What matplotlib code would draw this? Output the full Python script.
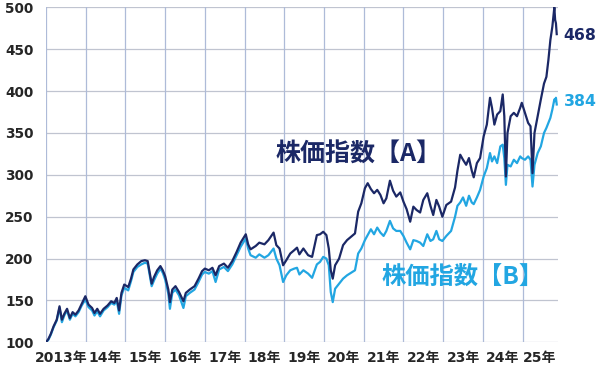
import matplotlib
matplotlib.use("Agg")
import matplotlib.pyplot as plt

# ---- data (decimal year, index A, index B) ----
t = [2013.00, 2013.06, 2013.12, 2013.19, 2013.27, 2013.34, 2013.40, 2013.46, 2013.53, 2013.60,
     2013.67, 2013.74, 2013.82, 2013.90, 2013.99, 2014.07, 2014.16, 2014.22, 2014.29, 2014.36,
     2014.45, 2014.55, 2014.64, 2014.72, 2014.78, 2014.84, 2014.90, 2014.97, 2015.07, 2015.14,
     2015.20, 2015.30, 2015.40, 2015.49, 2015.56, 2015.63, 2015.66, 2015.72, 2015.80, 2015.88,
     2015.94, 2016.00, 2016.08, 2016.12, 2016.18, 2016.26, 2016.35, 2016.46, 2016.52, 2016.62,
     2016.74, 2016.84, 2016.93, 2017.00, 2017.10, 2017.19, 2017.27, 2017.36, 2017.48, 2017.58,
     2017.69, 2017.80, 2017.90, 2018.03, 2018.09, 2018.15, 2018.28, 2018.37, 2018.50, 2018.60,
     2018.73, 2018.80, 2018.88, 2018.97, 2019.05, 2019.15, 2019.25, 2019.32, 2019.38, 2019.48,
     2019.60, 2019.70, 2019.82, 2019.90, 2019.98, 2020.06, 2020.12, 2020.17, 2020.22, 2020.28,
     2020.38, 2020.48, 2020.58, 2020.68, 2020.78, 2020.86, 2020.94, 2021.03, 2021.10, 2021.18,
     2021.26, 2021.34, 2021.42, 2021.50, 2021.57, 2021.66, 2021.74, 2021.82, 2021.92, 2022.00,
     2022.08, 2022.17, 2022.25, 2022.33, 2022.42, 2022.50, 2022.60, 2022.68, 2022.75, 2022.83,
     2022.90, 2022.98, 2023.08, 2023.20, 2023.30, 2023.36, 2023.43, 2023.50, 2023.58, 2023.65,
     2023.72, 2023.77, 2023.85, 2023.93, 2024.02, 2024.10, 2024.18, 2024.23, 2024.29, 2024.36,
     2024.44, 2024.50, 2024.54, 2024.58, 2024.62, 2024.70, 2024.78, 2024.86, 2024.94, 2024.98,
     2025.06, 2025.14, 2025.20, 2025.25, 2025.30, 2025.38, 2025.46, 2025.54, 2025.60, 2025.65,
     2025.70, 2025.75, 2025.80, 2025.82, 2025.84, 2025.86]

index_a = [100, 104, 110, 119, 127, 143, 127, 134, 140, 129,
           136, 133, 138, 146, 155, 145, 141, 135, 140, 134,
           140, 144, 149, 147, 153, 138, 159, 169, 166, 176,
           187, 193, 197, 198, 197, 178, 170, 178, 186, 191,
           186, 179, 163, 148, 163, 167, 160, 149, 159, 163,
           167, 176, 185, 188, 186, 189, 180, 191, 194, 189,
           197, 208, 219, 229, 217, 211, 215, 219, 217, 222,
           231, 216, 212, 192, 198, 206, 210, 213, 205, 212,
           204, 202, 228, 229, 232, 228, 212, 186, 176, 192,
           200, 216, 222, 226, 230, 256, 266, 284, 290, 283,
           278, 282, 276, 266, 272, 293, 281, 274, 279, 268,
           259, 244, 262, 258, 255, 270, 278, 263, 252, 270,
           262, 250, 264, 268, 285, 305, 324, 318, 312, 320,
           305, 297, 314, 320, 346, 360, 392, 380, 360, 372,
           376, 396, 370, 298, 350, 370, 374, 370, 380, 386,
           374, 362, 358, 302, 350, 370, 390, 409, 417, 437,
           461, 477, 500, 485, 481, 468]

index_b = [100, 103, 109, 118, 126, 141, 124, 132, 138, 127,
           134, 131, 136, 144, 151, 142, 138, 132, 137, 131,
           138, 142, 147, 145, 150, 134, 156, 165, 162, 173,
           184, 190, 193, 195, 194, 175, 167, 174, 182, 188,
           183, 175, 158, 140, 159, 163, 156, 141, 155, 159,
           163, 172, 181, 184, 182, 185, 172, 187, 190, 185,
           193, 204, 214, 224, 212, 204, 201, 205, 201, 204,
           212, 200, 192, 172, 180, 186, 188, 189, 181, 186,
           182, 177, 193, 196, 202, 200, 192, 160, 148, 164,
           170, 176, 180, 183, 186, 206, 212, 222, 228, 235,
           229, 237, 231, 227, 233, 245, 236, 233, 233, 227,
           219, 211, 222, 221, 219, 215, 229, 221, 223, 233,
           223, 221, 227, 233, 250, 263, 267, 273, 263, 275,
           267, 265, 273, 282, 298, 308, 326, 316, 322, 314,
           334, 336, 320, 288, 312, 310, 318, 314, 322, 320,
           318, 322, 318, 286, 312, 326, 334, 350, 356, 362,
           368, 378, 390, 388, 392, 384]

y_ticks = [100, 150, 200, 250, 300, 350, 400, 450, 500]
year_lines = list(range(2013, 2026))
x_labels = ["2013年", "14年", "15年", "16年", "17年", "18年", "19年",
            "20年", "21年", "22年", "23年", "24年", "25年"]
x_label_pos = [2013.37, 2014.5, 2015.5, 2016.5, 2017.5, 2018.5, 2019.5,
               2020.5, 2021.5, 2022.5, 2023.5, 2024.5, 2025.43]

NAVY = "#1b2866"
SKY = "#22a6e2"

plt.rcParams['font.family'] = ['DejaVu Sans', 'Noto Sans CJK JP']

fig = plt.figure(figsize=(6.0, 3.67), dpi=100)
ax = fig.add_axes([0.0767, 0.0673, 0.8525, 0.9127])

ax.set_xlim(2013.0, 2025.88)
ax.set_ylim(100, 500)

for s in ax.spines.values():
    s.set_visible(False)

for v in y_ticks:
    ax.axhline(v, color="#c0c4d0", lw=0.9, zorder=1)
for yr in year_lines:
    ax.axvline(yr, color="#aebbd8", lw=0.9, zorder=1)

ax.plot(t, index_b, color=SKY, lw=1.6, zorder=3)
ax.plot(t, index_a, color=NAVY, lw=1.6, zorder=4)

ax.set_yticks(y_ticks)
ax.set_yticklabels([str(v) for v in y_ticks], fontsize=9.8, fontweight="bold", color="#262626")
ax.tick_params(axis="y", length=0, pad=9)

ax.set_xticks(x_label_pos)
ax.set_xticklabels(x_labels, fontsize=10, fontweight="bold", color="#262626")
ax.tick_params(axis="x", length=0, pad=6)

ax.text(2018.77, 324.5, "株価指数【A】", color=NAVY, fontsize=18, fontweight="bold",
        ha="left", va="center", family=['Noto Sans CJK JP', 'DejaVu Sans'], zorder=5)
ax.text(2021.45, 178, "株価指数【B】", color=SKY, fontsize=17.5, fontweight="bold",
        ha="left", va="center", family=['Noto Sans CJK JP', 'DejaVu Sans'], zorder=5)

ax.annotate(str(index_a[-1]), xy=(t[-1], 466), xytext=(4.5, 0), textcoords="offset points",
            color=NAVY, fontsize=11.3, fontweight="bold", ha="left", va="center",
            annotation_clip=False)
ax.annotate(str(index_b[-1]), xy=(t[-1], 388), xytext=(5, 0), textcoords="offset points",
            color=SKY, fontsize=11.3, fontweight="bold", ha="left", va="center",
            annotation_clip=False)

fig.savefig("out.png", dpi=100)
